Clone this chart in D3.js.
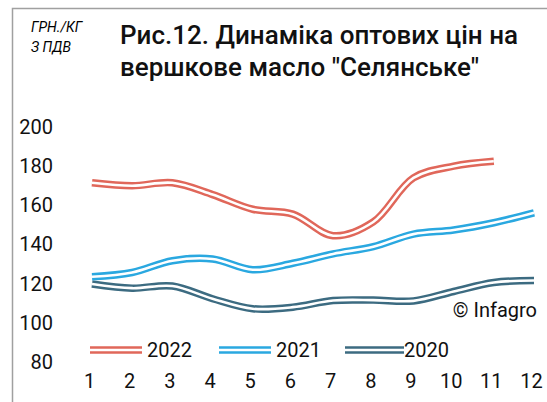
<!DOCTYPE html>
<html>
<head>
<meta charset="utf-8">
<script src="https://cdn.jsdelivr.net/npm/d3@7"></script>
<style>
  body { margin: 0; background: #fff; }
  svg { display: block; font-family: Roboto, "Noto Sans", sans-serif; }
</style>
</head>
<body>
<script>
// Дані (грн/кг з ПДВ)
var months = [1, 2, 3, 4, 5, 6, 7, 8, 9, 10, 11, 12];
var yTicks = [80, 100, 120, 140, 160, 180, 200];
var seriesNames = ["2022", "2021", "2020"];
var colors = ["#E0675A", "#2AA8E0", "#3C6B81"];
var v2022 = [171.5, 170, 171.5, 165.5, 158, 155.5, 144.5, 151.5, 174, 180, 182.5];
var v2021 = [123.5, 125.7, 131.7, 132.6, 127.1, 130.4, 135.2, 138.9, 145.3, 147.4, 151.1, 156.2];
var v2020 = [119.8, 117.7, 118.8, 112.3, 107.2, 108, 111.4, 111.6, 111.2, 116, 120.6, 121.6];

var W = 547, H = 402;

var svg = d3.select("body").append("svg")
            .attr("width", W)
            .attr("height", H);

// рамка
svg.append("rect")
   .attr("x", 12.5).attr("y", 8.5)
   .attr("width", W + 20).attr("height", H + 20)
   .attr("fill", "none")
   .attr("stroke", "#a0a0a0")
   .attr("stroke-width", 1.5);

// Заголовок
svg.append("text")
   .attr("x", 31).attr("y", 32)
   .style("font-size", "14px").style("font-style", "italic")
   .text("ГРН./КГ");
svg.append("text")
   .attr("x", 31).attr("y", 52)
   .style("font-size", "14px").style("font-style", "italic")
   .text("З ПДВ");

var title = svg.append("text")
   .style("font-size", "26px").style("font-weight", 500)
   .attr("fill", "#111");
title.append("tspan").attr("x", 120).attr("y", 44).text("Рис.12. Динаміка оптових цін на");
title.append("tspan").attr("x", 120).attr("y", 76).text("вершкове масло \"Селянське\"");

// Шкали
var x = d3.scaleLinear().domain([1, 12]).range([92, 534]);
var y = d3.scaleLinear().domain([80, 200]).range([362, 127]);

// Вісь Y (без лінії)
var axeY = d3.axisLeft(y).tickValues(yTicks).tickSize(0).tickPadding(0);
var gY = svg.append("g").attr("transform", "translate(53,0)").call(axeY);
gY.select(".domain").remove();
gY.selectAll("text").style("font-size", "20px").attr("fill", "#111");
gY.attr("font-family", null);

// Вісь X
var axeX = d3.axisBottom(x).tickValues(months).tickSize(0).tickPadding(0);
var gX = svg.append("g").attr("transform", "translate(-3,374)").call(axeX);
gX.select(".domain").remove();
gX.selectAll("text").style("font-size", "20px").attr("fill", "#111");
gX.attr("font-family", null);

// Лінії (подвійні)
var line = d3.line()
             .x(function(d, i) { return x(months[i]); })
             .y(function(d) { return y(d); })
             .curve(d3.curveCatmullRom.alpha(0.5));

var data = [v2022, v2021, v2020];
[2, 1, 0].forEach(function(k) {
  svg.append("path")
     .attr("d", line(data[k]))
     .attr("fill", "none")
     .attr("stroke", colors[k])
     .attr("stroke-width", 7.5);
  svg.append("path")
     .attr("d", line(data[k]))
     .attr("fill", "none")
     .attr("stroke", "#fff")
     .attr("stroke-width", 2.6);
});

// © Infagro
svg.append("text")
   .attr("x", 537).attr("y", 317)
   .attr("text-anchor", "end")
   .style("font-size", "20px")
   .attr("fill", "#111")
   .text("© Infagro");

// Легенда
var legX = [90, 219, 345];
var legTx = [147, 276, 404];
seriesNames.forEach(function(name, i) {
  var g = svg.append("g");
  g.append("line")
   .attr("x1", legX[i]).attr("x2", legX[i] + 52 + (i === 2 ? 7 : 0))
   .attr("y1", 350).attr("y2", 350)
   .attr("stroke", colors[i]).attr("stroke-width", 7.5);
  g.append("line")
   .attr("x1", legX[i]).attr("x2", legX[i] + 52 + (i === 2 ? 7 : 0))
   .attr("y1", 350).attr("y2", 350)
   .attr("stroke", "#fff").attr("stroke-width", 2.6);
  g.append("text")
   .attr("x", legTx[i]).attr("y", 357)
   .style("font-size", "20px")
   .attr("fill", "#111")
   .text(name);
});
</script>
</body>
</html>
